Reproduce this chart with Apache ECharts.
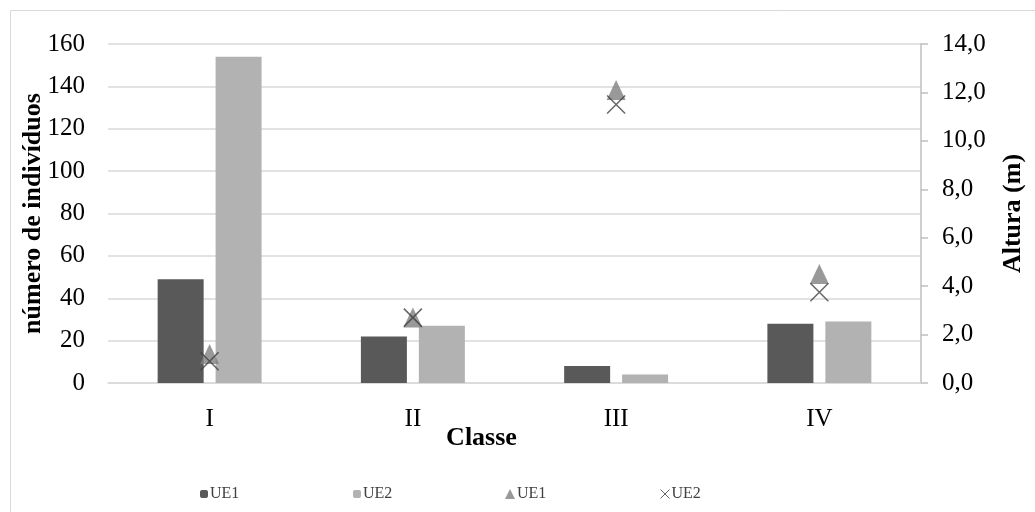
<!DOCTYPE html>
<html>
<head>
<meta charset="utf-8">
<script src="https://cdn.jsdelivr.net/npm/echarts@6/dist/echarts.min.js"></script>
<style>
  html, body { margin: 0; padding: 0; background: #fff; }
  #chart { width: 1035px; height: 512px; }
</style>
</head>
<body>
<div id="chart"></div>
<script>
// Classes de altura
const classes = ['I', 'II', 'III', 'IV'];
// Número de indivíduos por classe (barras)
const nUE1 = [49, 22, 8, 28];
const nUE2 = [154, 27, 4, 29];
// Altura média (m) por classe (marcadores)
const alturaUE1 = [1.2, 2.7, 12.1, 4.5];
const alturaUE2 = [0.9, 2.7, 11.5, 3.75];

const FONT = '"Liberation Serif", "Times New Roman", serif';
const X_PATH = 'path://M0,0L10,10M10,0L0,10';

const chart = echarts.init(document.getElementById('chart'), null, { renderer: 'canvas' });

function legendAt(left, name, label, extra) {
  return Object.assign({
    left: left,
    top: 481,
    orient: 'horizontal',
    selectedMode: false,
    itemWidth: 8,
    itemHeight: 8,
    textStyle: { fontFamily: FONT, fontSize: 16, color: '#404040', padding: [0, 0, 0, -3] },
    formatter: () => label,
    data: [name]
  }, extra || {});
}

chart.setOption({
  backgroundColor: '#ffffff',
  animation: false,
  graphic: [{
    type: 'rect',
    shape: { x: 10.5, y: 10.5, width: 1100, height: 600 },
    style: { fill: 'none', stroke: '#d9d9d9', lineWidth: 1 },
    silent: true
  }],
  grid: { left: 108, right: 114, top: 44, bottom: 129 },
  legend: [
    legendAt(195, 'UE1 (indivíduos)', 'UE1'),
    legendAt(348, 'UE2 (indivíduos)', 'UE2'),
    legendAt(500, 'UE1 (altura)', 'UE1', { itemWidth: 10, itemHeight: 10 }),
    legendAt(653, 'UE2 (altura)', 'UE2', {
      itemWidth: 9, itemHeight: 9,
      data: [{ name: 'UE2 (altura)', icon: X_PATH,
               itemStyle: { color: 'none', borderColor: '#404040', borderWidth: 1 } }]
    })
  ],
  xAxis: {
    type: 'category',
    data: classes,
    name: 'Classe',
    nameLocation: 'middle',
    nameGap: 42,
    nameMoveOverlap: false,
    nameTextStyle: { fontFamily: FONT, fontSize: 26, fontWeight: 'bold', color: '#000', padding: [0, 66, 0, 0] },
    axisLine: { show: true, lineStyle: { color: '#d9d9d9', width: 1.5 } },
    axisTick: { show: false },
    axisLabel: { fontFamily: FONT, fontSize: 25, color: '#000', margin: 24 },
    splitLine: { show: false }
  },
  yAxis: [{
    type: 'value',
    min: 0, max: 160, interval: 20,
    name: 'número de indivíduos',
    nameLocation: 'middle',
    nameGap: 62,
    nameMoveOverlap: false,
    nameRotate: 90,
    nameTextStyle: { fontFamily: FONT, fontSize: 26, fontWeight: 'bold', color: '#000' },
    axisLine: { show: false },
    axisTick: { show: false },
    axisLabel: { fontFamily: FONT, fontSize: 25, color: '#000', margin: 23 },
    splitLine: { show: true, lineStyle: { color: '#d9d9d9', width: 1.5 } }
  }, {
    type: 'value',
    position: 'right',
    min: 0, max: 14, interval: 2,
    name: 'Altura (m)',
    nameLocation: 'middle',
    nameGap: 79,
    nameMoveOverlap: false,
    nameRotate: 90,
    nameTextStyle: { fontFamily: FONT, fontSize: 26, fontWeight: 'bold', color: '#000' },
    axisLine: { show: true, lineStyle: { color: '#bfbfbf', width: 1.5 } },
    axisTick: { show: true, inside: false, length: 7, lineStyle: { color: '#bfbfbf', width: 1.5 } },
    axisLabel: {
      fontFamily: FONT, fontSize: 25, color: '#000', margin: 21,
      formatter: v => v.toFixed(1).replace('.', ',')
    },
    splitLine: { show: false }
  }],
  series: [{
    name: 'UE1 (indivíduos)',
    type: 'bar',
    data: nUE1,
    barWidth: 46,
    barGap: '26%',
    itemStyle: { color: '#595959' }
  }, {
    name: 'UE2 (indivíduos)',
    type: 'bar',
    data: nUE2,
    barWidth: 46,
    barGap: '26%',
    itemStyle: { color: '#b2b2b2' }
  }, {
    name: 'UE1 (altura)',
    type: 'scatter',
    yAxisIndex: 1,
    data: alturaUE1,
    symbol: 'triangle',
    symbolSize: [19, 20],
    itemStyle: { color: '#808080' },
    z: 3
  }, {
    name: 'UE2 (altura)',
    type: 'scatter',
    yAxisIndex: 1,
    data: alturaUE2,
    symbol: X_PATH,
    symbolSize: 18,
    itemStyle: { color: 'none', borderColor: '#404040', borderWidth: 1.5 },
    z: 4
  }]
});
</script>
</body>
</html>
